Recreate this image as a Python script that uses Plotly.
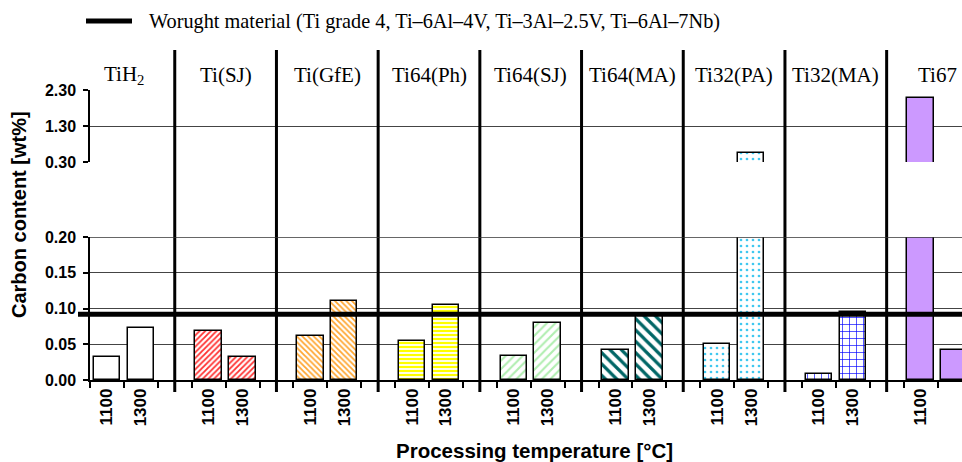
import plotly.graph_objects as go

# Carbon content of sintered titanium materials at two processing temperatures
groups = ["TiH<sub>2</sub>", "Ti(SJ)", "Ti(GfE)", "Ti64(Ph)", "Ti64(SJ)",
          "Ti64(MA)", "Ti32(PA)", "Ti32(MA)", "Ti67"]
temperatures = ["1100", "1300"]
carbon_1100 = [0.032, 0.069, 0.062, 0.054, 0.033, 0.042, 0.051, 0.008, 2.07]
carbon_1300 = [0.073, 0.032, 0.110, 0.105, 0.080, 0.089, 0.55, 0.095, 0.042]
wrought_level = 0.092

lower_ticks = [0.00, 0.05, 0.10, 0.15, 0.20]
upper_ticks = [0.30, 1.30, 2.30]

# fill style per material group: (pattern shape, pattern colour, size, solidity, bg)
styles = [
    ("", "black", 6, 0.3, "white"),
    ("/", "#ff3030", 4, 0.45, "white"),
    ("\\", "#ffa630", 4, 0.45, "white"),
    ("-", "#ffff00", 4, 0.55, "white"),
    ("/", "#b0eeb0", 6, 0.35, "white"),
    ("\\", "#006666", 8, 0.4, "white"),
    (".", "#40c8f0", 6, 0.16, "white"),
    ("+", "#0000ff", 7, 0.18, "white"),
    ("", "black", 6, 0.3, "#cc99ff"),
]

SLOTS = 3  # 1100, 1300 and an empty spacer slot per group

fig = go.Figure()
for g, name in enumerate(groups):
    xs = [g * SLOTS, g * SLOTS + 1]
    ys = [carbon_1100[g], carbon_1300[g]]
    shape, fg, size, sol, bg = styles[g]
    marker = dict(color=bg, line=dict(color="black", width=1.5),
                  pattern=dict(shape=shape, fgcolor=fg, bgcolor=bg, fgopacity=1,
                               size=size, solidity=sol, fillmode="overlay"))
    for yax in ("y", "y2"):
        fig.add_trace(go.Bar(x=xs, y=ys, yaxis=yax, xaxis="x", width=0.78,
                             marker=marker, showlegend=False, name=name,
                             hoverinfo="x+y"))

tick_pos = [g * SLOTS + i for g in range(len(groups)) for i in range(2)]
tick_txt = [temperatures[i] for g in range(len(groups)) for i in range(2)]

H_PLOT = 290.0
W_PLOT = 872.0


def py(px):
    return (380 - px) / H_PLOT


def pxx(px):
    return (px - 90) / W_PLOT


axis_font = dict(family="Liberation Sans, Arial", size=16, color="black", weight="bold")
xtick_font = dict(family="Liberation Sans, Arial", size=17, color="black", weight="bold")
serif = "Liberation Serif, Times New Roman"

fig.update_layout(
    width=962, height=462,
    margin=dict(l=90, r=0, t=90, b=82),
    paper_bgcolor="white", plot_bgcolor="white",
    bargap=0,
    showlegend=False,
    xaxis=dict(
        range=[-0.5, -0.5 + W_PLOT / 33.9],
        tickmode="array", tickvals=tick_pos, ticktext=tick_txt,
        tickangle=-90, ticks="", tickfont=xtick_font,
        ticklabelstandoff=0,
        showline=True, linecolor="black", linewidth=1.5,
        showgrid=False, zeroline=False, anchor="y",
        minor=dict(tickmode="linear", tick0=-0.5, dtick=1, ticks="outside",
                   ticklen=6, tickwidth=1.5, tickcolor="black", showgrid=False),
    ),
    yaxis=dict(
        domain=[0, py(237)], range=[0, 0.2],
        tickmode="array", tickvals=lower_ticks,
        ticktext=[f"{v:.2f}" for v in lower_ticks],
        ticks="outside", ticklen=5, tickwidth=1.5, tickcolor="black",
        tickfont=axis_font, ticklabelstandoff=4,
        showline=True, linecolor="black", linewidth=1.5,
        showgrid=True, gridcolor="#444444", gridwidth=1.3, zeroline=False,
    ),
    yaxis2=dict(
        domain=[py(162), 1], range=[0.3, 2.3], anchor="x",
        tickmode="array", tickvals=upper_ticks,
        ticktext=[f"{v:.2f}" for v in upper_ticks],
        ticks="outside", ticklen=5, tickwidth=1.5, tickcolor="black",
        tickfont=axis_font, ticklabelstandoff=4,
        showline=True, linecolor="black", linewidth=1.5,
        showgrid=True, gridcolor="#444444", gridwidth=1.3, zeroline=False,
    ),
)

shapes = []
# group separators
for g in range(len(groups) - 1):
    shapes.append(dict(type="line", xref="x", yref="paper",
                       x0=g * SLOTS + 2, x1=g * SLOTS + 2,
                       y0=py(392), y1=py(50),
                       line=dict(color="black", width=3)))
# top edge of the lower panel, drawn over the clipped bars
shapes.append(dict(type="line", xref="paper", yref="y", x0=0, x1=1,
                   y0=lower_ticks[-1], y1=lower_ticks[-1],
                   line=dict(color="#333333", width=1.5)))
# wrought material reference level
shapes.append(dict(type="line", xref="paper", yref="y",
                   x0=pxx(78), x1=1, y0=wrought_level, y1=wrought_level,
                   line=dict(color="black", width=5)))
# key sample line
shapes.append(dict(type="line", xref="paper", yref="paper",
                   x0=pxx(86), x1=pxx(132), y0=py(21), y1=py(21),
                   line=dict(color="black", width=5)))
fig.update_layout(shapes=shapes)

annotations = []
for g, name in enumerate(groups):
    annotations.append(dict(x=g * SLOTS + 0.5, y=py(75), xref="x", yref="paper",
                            text=name, showarrow=False,
                            font=dict(family=serif, size=21, color="black"),
                            xanchor="center", yanchor="middle"))
annotations.append(dict(x=pxx(147), y=py(21), xref="paper", yref="paper",
                        text="Worught material (Ti grade 4, Ti\u20136Al\u20134V, "
                             "Ti\u20133Al\u20132.5V, Ti\u20136Al\u20137Nb)",
                        showarrow=False, xanchor="left", yanchor="middle",
                        font=dict(family=serif, size=20.3, color="black")))
annotations.append(dict(x=pxx(19), y=py(215), xref="paper", yref="paper",
                        text="Carbon content [wt%]", textangle=-90,
                        showarrow=False, xanchor="center", yanchor="middle",
                        font=dict(family="Liberation Sans, Arial", size=20,
                                  color="black", weight="bold")))
annotations.append(dict(x=pxx(534), y=py(450), xref="paper", yref="paper",
                        text="Processing temperature [\u00b0C]",
                        showarrow=False, xanchor="center", yanchor="middle",
                        font=dict(family="Liberation Sans, Arial", size=20.5,
                                  color="black", weight="bold")))
fig.update_layout(annotations=annotations)

fig.write_html("out.html")
